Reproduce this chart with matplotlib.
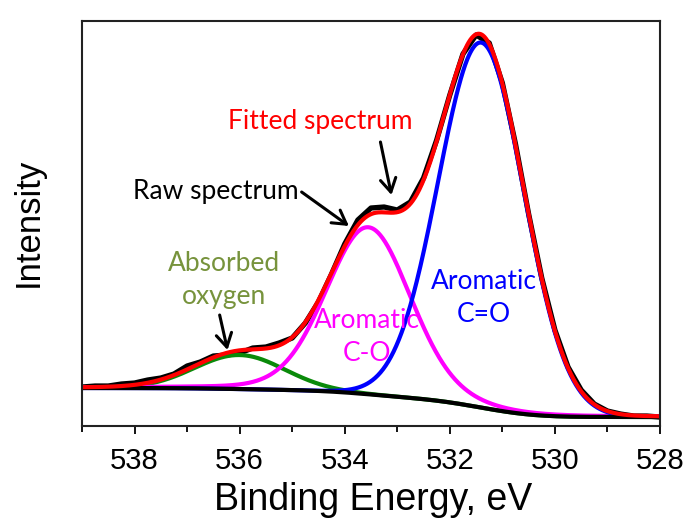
import numpy as np
import matplotlib
matplotlib.use("Agg")
import matplotlib.pyplot as plt
from matplotlib.ticker import MultipleLocator

# O 1s spectrum, binding energy grid of the raw data (eV) and counts (a.u.)
raw_energy = np.arange(539, 527.99, -0.25)
raw_counts = [39, 40, 40, 42, 43, 46, 48, 52, 60, 64, 70, 71, 73, 78, 79, 83,
              88, 103, 124, 152, 182, 206, 218, 219, 216, 224, 248, 286, 331, 372,
              391, 383, 343, 282, 212, 148, 96, 59, 36, 22, 15, 12, 10, 10, 9]

# fitted components: centre (eV), height above background (a.u.), FWHM (eV), lorentz fraction
comp_names = ["Absorbed oxygen", "Aromatic C-O", "Aromatic C=O"]
comp_colors = ["#0a8a0a", "#ff00ff", "#0000ff"]
comp_center = [536.0, 533.55, 531.40]
comp_height = [34, 167, 365]
comp_fwhm = [2.0, 1.9, 1.92]
comp_eta = [0.0, 0.15, 0.0]

# background levels at the high / low binding energy ends
bg_left = 38
bg_right = 9

label_font = ["Lato", "DejaVu Sans"]
axis_font = ["Liberation Sans", "DejaVu Sans"]


def pv(x, c, a, w, eta):
    # pseudo-Voigt line shape
    u = (x - c) / w
    return a * ((1 - eta) * np.exp(-4 * np.log(2) * u ** 2) + eta / (1 + 4 * u ** 2))


e = np.linspace(528, 539, 1101)
comps = [pv(e, c, a, w, t) for c, a, w, t in zip(comp_center, comp_height, comp_fwhm, comp_eta)]
peaks = np.sum(comps, axis=0)
# Shirley-type background from the cumulative peak area
cum = np.concatenate([[0], np.cumsum((peaks[1:] + peaks[:-1]) / 2)])
bg = bg_right + (bg_left - bg_right) * cum / cum[-1]
fit = bg + peaks

fig = plt.figure(figsize=(6.86, 5.21), dpi=100)
ax = fig.add_axes([0.1195, 0.1823, 0.8426, 0.7774])

ax.plot(raw_energy, raw_counts, color="black", lw=3.8, solid_joinstyle="round")
for y, col in zip(comps, comp_colors):
    ax.plot(e, bg + y, color=col, lw=3)
ax.plot(e, bg, color="black", lw=3)
ax.plot(e, fit, color="red", lw=3)

ax.set_xlim(539, 528)
ax.set_ylim(0, 405)
ax.xaxis.set_major_locator(MultipleLocator(2))
ax.xaxis.set_minor_locator(MultipleLocator(1))
ax.set_yticks([])
ax.tick_params(axis="x", which="major", direction="out", length=6, width=1.3, pad=9,
               labelsize=21, top=False)
ax.tick_params(axis="x", which="minor", direction="out", length=4, width=1.3, top=False)
for lab in ax.get_xticklabels():
    lab.set_family(axis_font)
for sp in ax.spines.values():
    sp.set_linewidth(1.5)
    sp.set_color("#222222")

fig.text(373 / 686, 1 - 500 / 521, "Binding Energy, eV", family=axis_font, fontsize=27,
         ha="center", va="center")
fig.text(28 / 686, 1 - 222 / 521, "Intensity", family=axis_font, fontsize=25,
         rotation=90, ha="center", va="center")

# labels and arrows
ax.text(534.46, 305, "Fitted spectrum", color="red", fontsize=19, family=label_font,
        ha="center", va="center")
ax.text(536.45, 235, "Raw spectrum", color="black", fontsize=19, family=label_font,
        ha="center", va="center")
ax.text(536.30, 146, "Absorbed\noxygen", color="#77933c", fontsize=19, family=label_font,
        ha="center", va="center", linespacing=1.4)
ax.text(533.57, 89, "Aromatic\nC-O", color="#ff00ff", fontsize=19, family=label_font,
        ha="center", va="center", linespacing=1.4)
ax.text(531.36, 128, "Aromatic\nC=O", color="#0000ff", fontsize=19, family=label_font,
        ha="center", va="center", linespacing=1.4)

arrow = dict(arrowstyle="->,head_length=0.6,head_width=0.35", color="black", lw=2.2,
             mutation_scale=16, shrinkA=0, shrinkB=0)
ax.annotate("", xy=(533.11, 231), xytext=(533.32, 284), arrowprops=arrow)
ax.annotate("", xy=(533.92, 200), xytext=(534.82, 234), arrowprops=arrow)
ax.annotate("", xy=(536.23, 76), xytext=(536.38, 111), arrowprops=arrow)

fig.savefig("out.png", dpi=100)
